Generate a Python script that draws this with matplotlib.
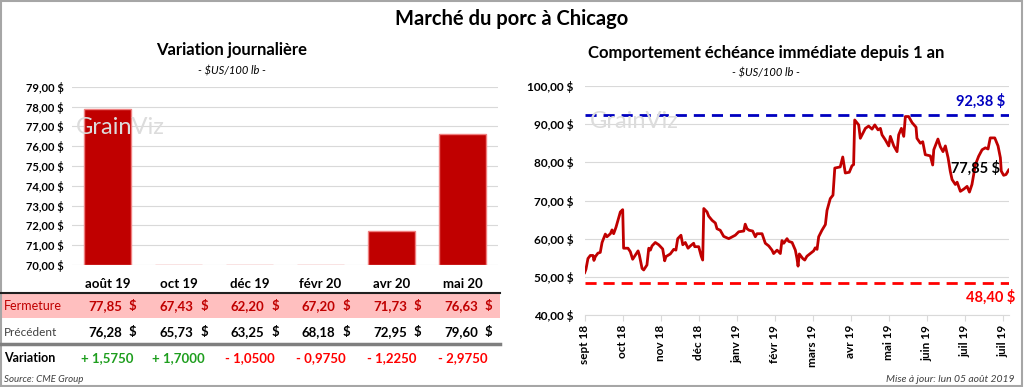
import matplotlib
matplotlib.use("Agg")
import matplotlib.pyplot as plt
from matplotlib.patches import Rectangle
from matplotlib.lines import Line2D
from matplotlib.ticker import FuncFormatter

plt.rcParams['font.family'] = ['Lato', 'DejaVu Sans']

# --- données : variation journalière (échéances) ---
echeances = ["août 19", "oct 19", "déc 19", "févr 20", "avr 20", "mai 20"]
fermeture = [77.85, 67.43, 62.20, 67.20, 71.73, 76.63]
precedent = [76.28, 65.73, 63.25, 68.18, 72.95, 79.60]
variation = ["+ 1,5750", "+ 1,7000", "- 1,0500", "- 0,9750", "- 1,2250", "- 2,9750"]

# --- données : échéance immédiate depuis 1 an (jour de bourse, prix) ---
jour = [0, 0.7, 1.8, 3.1, 4.6, 5.1, 5.9, 7.3, 8.6, 9.6, 11.4, 12.3, 14.2, 15.1, 16.0,
        17.3, 19.7, 21.0, 21.5, 23.9, 25.2, 26.5, 28.0, 29.5, 30.2, 31.7, 32.6, 34.4,
        35.4, 36.3, 37.2, 39.0, 40.9, 43.1, 44.2, 44.9, 47.3, 49.2, 50.4, 51.4, 53.2,
        54.2, 55.6, 57.1, 58.4, 60.2, 60.8, 63.0, 64.4, 65.2, 65.8, 67.6, 68.5, 70.4,
        72.2, 73.1, 74.9, 76.8, 79.6, 83.2, 85.1, 87.9, 88.7, 89.7, 90.9, 92.8, 94.3,
        95.2, 98.0, 99.8, 101.7, 103.5, 104.4, 106.3, 108.1, 109.0, 110.0, 111.8, 112.7,
        114.6, 116.4, 117.3, 117.9, 118.6, 120.5, 121.6, 122.8, 124.7, 126.5, 127.4,
        128.4, 129.3, 131.1, 133.0, 133.9, 135.7, 137.2, 138.2, 141.2, 142.6, 144.0,
        146.2, 147.7, 148.6, 149.2, 151.4, 152.3, 154.2, 155.1, 156.9, 158.8, 160.3,
        162.1, 163.4, 164.3, 166.1, 168.0, 168.9, 170.8, 172.6, 173.5, 175.0, 176.3,
        177.2, 179.0, 180.9, 183.1, 183.6, 185.5, 186.8, 188.2, 191.0, 192.3, 192.9,
        195.2, 196.5, 198.0, 199.3, 200.8, 202.0, 203.0, 204.8, 205.8, 207.6, 209.5,
        211.3, 212.6, 214.0, 215.9, 217.7, 219.6, 221.4, 222.9, 224.1, 226.6, 228.4,
        229.7, 230.2, 231.5, 232.8, 234.3]
prix = [51.1, 52.0, 54.8, 55.6, 55.6, 54.3, 55.3, 56.2, 56.4, 59.0, 61.2, 60.5, 61.3,
        62.3, 61.3, 63.0, 67.0, 67.6, 57.5, 57.5, 56.6, 54.6, 55.7, 56.8, 55.7, 52.2,
        51.8, 53.1, 57.5, 57.0, 58.1, 59.0, 58.4, 57.3, 54.2, 55.3, 56.0, 57.2, 57.0,
        60.0, 60.9, 58.4, 59.0, 57.5, 58.1, 58.8, 57.9, 57.9, 55.4, 54.4, 67.9, 67.0,
        65.9, 64.8, 64.1, 62.6, 62.2, 60.6, 60.0, 60.9, 61.8, 62.0, 63.8, 62.6, 62.2,
        62.0, 60.5, 61.3, 61.3, 58.8, 58.1, 57.0, 56.1, 57.0, 56.1, 59.5, 58.8, 60.0,
        59.3, 59.0, 57.0, 54.8, 52.8, 56.0, 54.8, 54.4, 55.4, 56.1, 56.8, 57.6, 57.2,
        60.5, 62.2, 63.7, 67.4, 70.5, 71.4, 78.5, 78.8, 81.4, 77.2, 77.4, 79.1, 79.4,
        91.1, 89.8, 86.3, 88.1, 88.9, 89.5, 88.7, 89.8, 88.5, 88.9, 87.2, 85.9, 84.3,
        86.8, 84.3, 82.8, 87.2, 88.9, 86.8, 92.0, 92.0, 90.4, 89.2, 86.3, 85.0, 85.4,
        82.0, 81.7, 79.3, 83.3, 86.1, 84.1, 82.8, 84.3, 81.2, 77.7, 75.5, 74.2, 74.8,
        72.4, 73.0, 73.7, 72.2, 74.2, 79.4, 81.6, 83.3, 83.8, 83.5, 86.4, 86.4, 84.3,
        81.2, 77.7, 76.6, 76.8, 78.0]
mois = ["sept 18", "oct 18", "nov 18", "déc 18", "janv 19", "févr 19", "mars 19",
        "avr 19", "mai 19", "juin 19", "juil 19", "juil 19"]
maximum = 92.38
minimum = 48.40
dernier = 77.85

ROUGE = "#c00000"
W, H = 1024, 387


def fx(x):
    return x / W


def fy(y):
    return 1 - y / H


def dollars(v, _pos=None):
    return f"{v:,.2f} $".replace(",", " ").replace(".", ",")


fig = plt.figure(figsize=(W / 100, H / 100), dpi=100)

# cadre gris
fig.add_artist(Rectangle((0.001, 0.002), 0.997, 0.995, transform=fig.transFigure,
                         fill=False, edgecolor="#a6a6a6", linewidth=1.5))

fig.text(0.5, fy(19), "Marché du porc à Chicago", ha="center", va="center",
         fontsize=14.5, fontweight="bold")

# ---------------- gauche : barres ----------------
fig.text(fx(232), fy(50), "Variation journalière", ha="center", va="center",
         fontsize=12, fontweight="bold")
fig.text(fx(232), fy(71), "- $US/100 lb -", ha="center", va="center",
         fontsize=8, style="italic")
fig.text(fx(120), fy(127), "GrainViz", ha="center", va="center", fontsize=17,
         color="#dcdcdc", zorder=0)

axb = fig.add_axes([fx(72), fy(265), fx(498 - 72), fy(86.7) - fy(265)])
pos = range(len(echeances))
axb.bar(pos, [max(v - 70, 0) for v in fermeture], bottom=70, width=0.67,
        color=ROUGE, edgecolor="#f08080", linewidth=1, zorder=3)
axb.set_ylim(70, 79)
axb.set_xlim(-0.5, len(echeances) - 0.5)
axb.set_yticks(range(70, 80))
axb.yaxis.set_major_formatter(FuncFormatter(dollars))
axb.set_xticks(list(pos))
axb.set_xticklabels(echeances, fontweight="bold", fontsize=9.5)
for t in axb.get_yticklabels():
    t.set_fontweight("bold")
    t.set_fontsize(8)
axb.tick_params(length=0, pad=6)
axb.tick_params(axis="x", pad=9)
axb.grid(axis="y", color="#d9d9d9", linewidth=0.8, zorder=0)
axb.set_axisbelow(True)
for s in axb.spines.values():
    s.set_visible(False)
axb.patch.set_alpha(0)

# tableau sous les barres
fig.add_artist(Rectangle((fx(0), fy(318)), fx(500), fy(293) - fy(318),
                         transform=fig.transFigure, facecolor="#ffbfbf",
                         edgecolor="none", zorder=0))
fig.add_artist(Line2D([fx(0), fx(500)], [fy(293), fy(293)], transform=fig.transFigure,
                      color="#202020", linewidth=1.5))
fig.add_artist(Line2D([fx(0), fx(500)], [fy(344), fy(344)], transform=fig.transFigure,
                      color="#7f7f7f", linewidth=2.5))
fig.text(fx(4), fy(306), "Fermeture", color=ROUGE, fontsize=9, va="center")
fig.text(fx(4), fy(332), "Précédent", color="#404040", fontsize=8.5, va="center")
fig.text(fx(4), fy(358), "Variation", color="black", fontsize=9, va="center",
         fontweight="bold")
centres = [107 + 71.2 * i for i in range(len(echeances))]
for c, f, p, v in zip(centres, fermeture, precedent, variation):
    fig.text(fx(c + 15), fy(306), f"{f:.2f}".replace(".", ","), color=ROUGE,
             fontsize=9.5, fontweight="bold", ha="right", va="center")
    fig.text(fx(c + 22), fy(306), "$", color=ROUGE, fontsize=9.5, fontweight="bold",
             va="center")
    fig.text(fx(c + 15), fy(332), f"{p:.2f}".replace(".", ","), color="black",
             fontsize=9.5, fontweight="bold", ha="right", va="center")
    fig.text(fx(c + 22), fy(332), "$", color="black", fontsize=9.5, fontweight="bold",
             va="center")
    col = "#1e9e1e" if v.startswith("+") else "#ff0000"
    fig.text(fx(c), fy(358), v, color=col, fontsize=9.5, fontweight="bold",
             ha="center", va="center")
fig.text(fx(4), fy(379), "Source: CME Group", fontsize=7, style="italic",
         color="#404040", va="center")

# ---------------- droite : courbe ----------------
fig.text(fx(766), fy(53), "Comportement échéance immédiate depuis 1 an",
         ha="center", va="center", fontsize=12, fontweight="bold")
fig.text(fx(766), fy(73), "- $US/100 lb -", ha="center", va="center",
         fontsize=8, style="italic")
fig.text(fx(634), fy(122), "GrainViz", ha="center", va="center", fontsize=17,
         color="#dcdcdc", zorder=0)

axl = fig.add_axes([fx(584.7), fy(315), fx(1008.7 - 584.7), fy(86) - fy(315)])
axl.patch.set_alpha(0)
axl.plot(jour, prix, color=ROUGE, linewidth=2, zorder=3)
axl.axhline(maximum, color="#0000c0", linestyle=(0, (4, 2.5)), linewidth=2, zorder=2)
axl.axhline(minimum, color="#ff0000", linestyle=(0, (4, 2.5)), linewidth=2, zorder=2)
axl.text(232.5, maximum + 1.6, dollars(maximum), color="#0000c0", fontsize=10.5,
         fontweight="bold", ha="right", va="bottom")
axl.text(238, minimum - 1.8, dollars(minimum), color="#ff0000", fontsize=10.5,
         fontweight="bold", ha="right", va="top", clip_on=False)
axl.text(216, dernier + 0.5, dollars(dernier), color="black", fontsize=10.5,
         fontweight="bold", ha="center", va="center", zorder=4)
axl.set_xlim(0, jour[-1])
axl.set_ylim(40, 100)
axl.set_yticks(range(40, 101, 10))
axl.yaxis.set_major_formatter(FuncFormatter(dollars))
axl.set_xticks([21 * i for i in range(len(mois))])
axl.set_xticklabels(mois, rotation=90, fontweight="bold", fontsize=8.5)
for t in axl.get_yticklabels():
    t.set_fontweight("bold")
    t.set_fontsize(8.5)
axl.tick_params(axis="y", length=0, pad=8)
axl.tick_params(axis="x", length=4, color="#d9d9d9", pad=3)
axl.grid(axis="y", color="#d9d9d9", linewidth=0.8, zorder=0)
for k, s in axl.spines.items():
    s.set_visible(k == "bottom")
axl.spines["bottom"].set_color("#d9d9d9")
fig.text(fx(1014), fy(379), "Mise à jour: lun 05 août 2019", fontsize=7.5,
         style="italic", color="#404040", ha="right", va="center")

fig.savefig("out.png", dpi=100)
